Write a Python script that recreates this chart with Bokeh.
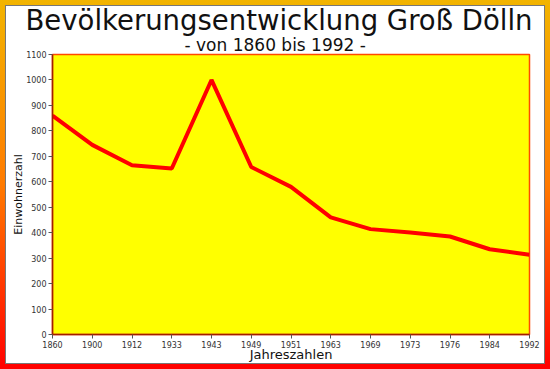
from bokeh.plotting import figure
from bokeh.models import Range1d, FixedTicker, Title
from bokeh.embed import file_html
from bokeh.resources import INLINE

years = ["1860", "1900", "1912", "1933", "1943", "1949", "1951",
         "1963", "1969", "1973", "1976", "1984", "1992"]
population = [860, 745, 665, 652, 1000, 658, 580, 460, 414, 401, 385, 335, 313]
y_ticks = list(range(0, 1200, 100))

idx = list(range(len(years)))

p = figure(width=550, height=369, output_backend="svg", toolbar_location=None,
           x_range=Range1d(0, len(years) - 1), y_range=Range1d(0, 1100),
           min_border_left=52, min_border_right=21, min_border_top=54,
           min_border_bottom=35)

p.styles = {
    "background": ("linear-gradient(#ffffff, #ffffff) center / calc(100% - 12px) calc(100% - 12px) no-repeat, "
                   "linear-gradient(#777777, #777777) center / calc(100% - 10px) calc(100% - 10px) no-repeat, "
                   "linear-gradient(to bottom, #f2b400, #ff7a00 50%, #ff0000)"),
}

p.background_fill_color = "#ffff00"
p.border_fill_color = None
p.outline_line_color = "#ff4a00"
p.outline_line_width = 1.5
p.xgrid.visible = False
p.ygrid.visible = False

p.line(idx, population, line_color="#ff0000", line_width=4)

p.xaxis.ticker = FixedTicker(ticks=idx)
p.xaxis.major_label_overrides = {i: y for i, y in enumerate(years)}
p.yaxis.ticker = FixedTicker(ticks=y_ticks)
for ax in (p.xaxis, p.yaxis):
    ax.minor_tick_line_color = None
    ax.major_tick_in = 0
    ax.major_tick_out = 4
    ax.major_tick_line_color = "#555555"
    ax.axis_line_color = "#a02000"
    ax.axis_line_width = 1.5
    ax.major_label_text_font = "DejaVu Sans"
    ax.major_label_text_font_size = "8px"
    ax.major_label_text_color = "#333333"
    ax.major_label_standoff = 2
    ax.axis_label_text_font = "DejaVu Sans"
    ax.axis_label_text_font_style = "normal"
    ax.axis_label_text_color = "#111111"
p.xaxis.axis_label = "Jahreszahlen"
p.xaxis.axis_label_text_font_size = "13px"
p.xaxis.axis_label_standoff = -4
p.yaxis.axis_label = "Einwohnerzahl"
p.yaxis.axis_label_text_font_size = "11px"
p.yaxis.axis_label_standoff = -2

p.add_layout(Title(text="- von 1860 bis 1992 -", align="left",
                   text_font="DejaVu Sans", text_font_size="17px",
                   text_font_style="normal", text_color="#111111",
                   standoff=0, offset=132), "above")
p.add_layout(Title(text="Bevölkerungsentwicklung Groß Dölln", align="left",
                   text_font="DejaVu Sans", text_font_size="27.5px",
                   text_font_style="normal", text_color="#111111",
                   standoff=-7, offset=-27), "above")

open("out.html", "w").write(file_html(p, INLINE))
